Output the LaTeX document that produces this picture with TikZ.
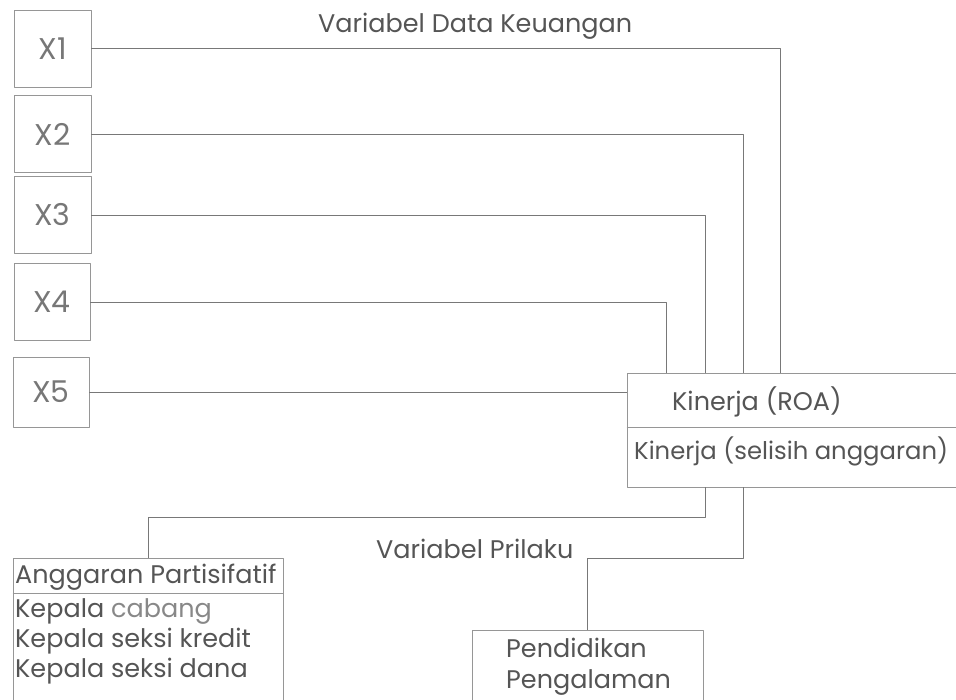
\documentclass[tikz,border=0pt]{standalone}
\usepackage{fontspec}
\setmainfont{Poppins}
\definecolor{inkgray}{RGB}{85,85,85}
\definecolor{linegray}{RGB}{120,120,120}
\definecolor{boxgray}{RGB}{150,150,150}
\begin{document}
\begin{tikzpicture}[x=1pt,y=-1pt,line join=round,
		xbox/.style={draw=boxgray,line width=.7pt,minimum width=77pt,minimum height=77pt,inner sep=0pt,font=\fontsize{30}{30}\selectfont\color{inkgray!80}},
		frame/.style={draw=boxgray,line width=.7pt,inner sep=0pt},
		txt/.style={anchor=base west,inner sep=0pt,font=\fontsize{25.5}{25.5}\selectfont\color{inkgray}},
		link/.style={draw=linegray,line width=.8pt}]
	\useasboundingbox (0,0) rectangle (956,700);
	% title of the upper group
	\node[txt] (keu) at (318,33) {Variabel Data Keuangan};
	% the five financial variables
	\node[xbox] (x1) at (52.5,48.5) {X1};
	\node[xbox] (x2) at (52.5,134) {X2};
	\node[xbox] (x3) at (52.5,215) {X3};
	\node[xbox,minimum width=76pt] (x4) at (52,302) {X4};
	\node[xbox,minimum width=76pt,minimum height=70pt] (x5) at (51,392) {X5};
	% performance box
	\node[frame,minimum width=340pt,minimum height=114pt] (kin) at (797,430) {};
	\draw[frame] (kin.west |- 0,427) -- (kin.east |- 0,427);
	\node[txt] (roa) at (672,410) {Kinerja (ROA)};
	\node[txt,font=\fontsize{24.3}{24.3}\selectfont\color{inkgray}] (sel) at (634,460) {Kinerja (selisih anggaran)};
	% behaviour boxes
	\node[frame,minimum width=270pt,minimum height=150pt] (angg) at (148,633) {};
	\draw[frame] (angg.west |- 0,593) -- (angg.east |- 0,593);
	\node[txt] (a1) at (15,583) {Anggaran Partisifatif};
	\node[txt] (a2) at (15,617) {Kepala {\color{inkgray!70}cabang}};
	\node[txt] (a3) at (15,647) {Kepala seksi kredit};
	\node[txt] (a4) at (15,677) {Kepala seksi dana};
	\node[frame,minimum width=231pt,minimum height=80pt] (pend) at (587.5,670) {};
	\node[txt] (p1) at (506,657) {Pendidikan};
	\node[txt] (p2) at (506,688) {Pengalaman};
	\node[txt] (pri) at (376,558) {Variabel Prilaku};
	% drop points on the performance box
	\coordinate (d1) at (780,373);
	\coordinate (d2) at (743,373);
	\coordinate (d3) at (705,373);
	\coordinate (d4) at (666,373);
	\coordinate (b1) at (705,487);
	\coordinate (b2) at (743,487);
	\coordinate (h1) at (705,517);
	\coordinate (h2) at (743,558);
	% connectors
	\draw[link] (x1.east) -| (d1);
	\draw[link] (x2.east) -| (d2);
	\draw[link] (x3.east) -| (d3);
	\draw[link] (x4.east) -| (d4);
	\draw[link] (x5.east) -- (x5.east -| kin.west);
	\draw[link] (b1) -- (h1) -| (angg.north);
	\draw[link] (b2) -- (h2) -| (pend.north);
\end{tikzpicture}
\end{document}
